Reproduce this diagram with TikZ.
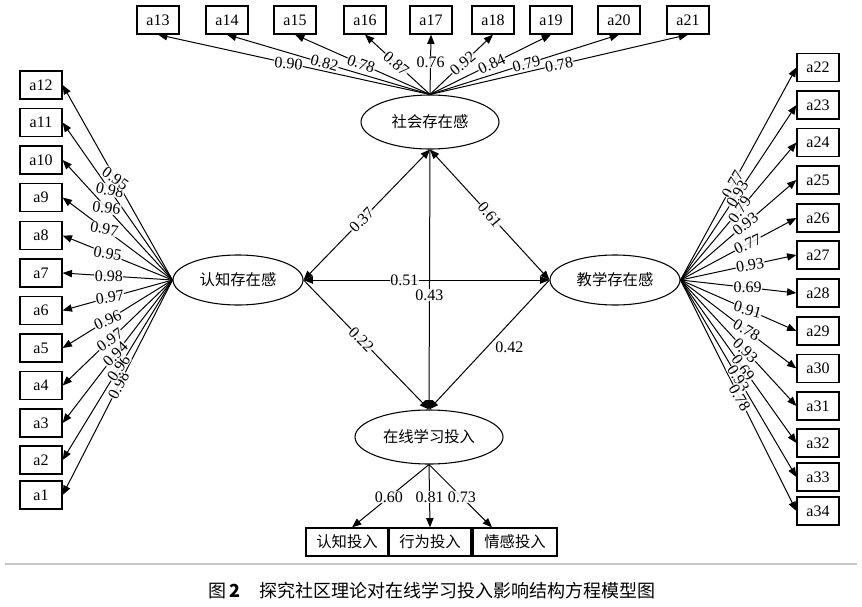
\documentclass[tikz,border=0pt]{standalone}
\usepackage{fontspec}
\setmainfont{Liberation Serif}
\newfontfamily\cjk{Noto Sans CJK SC}
\usetikzlibrary{arrows.meta,shapes.geometric,calc}
\begin{document}
\begin{tikzpicture}[x=0.75pt,y=-0.75pt,
  obs/.style={draw, line width=0.95pt, minimum width=31.5pt, minimum height=21pt, inner sep=0pt, font=\fontsize{12}{12}\selectfont},
  ind/.style={draw, line width=0.95pt, minimum width=61.5pt, minimum height=21pt, inner sep=0pt, font=\cjk\fontsize{11.5}{11.5}\selectfont},
  lat/.style={draw, ellipse, line width=0.8pt, inner sep=0pt, font=\cjk\fontsize{11.5}{11.5}\selectfont},
  arr/.style={line width=0.75pt, -{Triangle[length=7pt,width=5.5pt]}},
  darr/.style={line width=0.75pt, {Triangle[length=7pt,width=5.5pt]}-{Triangle[length=7pt,width=5.5pt]}},
  lbl/.style={fill=white, fill opacity=0.85, text opacity=1, inner sep=0.5pt, font=\fontsize{12}{12}\selectfont},
  plainlbl/.style={inner sep=0pt, font=\fontsize{12}{12}\selectfont},
]
\path[use as bounding box] (0,0) rectangle (862,606);

% latent variables
\node[lat, minimum width=103.5pt, minimum height=40.5pt] (T) at (430,122) {社会存在感};
\node[lat, minimum width=97.5pt, minimum height=37.5pt] (L) at (238,280) {认知存在感};
\node[lat, minimum width=97.5pt, minimum height=37.5pt] (R) at (615,280) {教学存在感};
\node[lat, minimum width=111pt, minimum height=40.5pt] (B) at (429,437) {在线学习投入};

% observed boxes
\foreach \n/\y in {1/495,2/460,3/423,4/385.5,5/348,6/310.5,7/273,8/235.5,9/197.5,10/160,11/122.5,12/85}
  \node[obs] (a\n) at (41,\y) {a\n};
\foreach \n/\x in {13/158,14/227,15/295,16/365,17/431,18/493,19/551,20/619,21/688}
  \node[obs] (a\n) at (\x,20) {a\n};
\foreach \n/\y in {22/67.5,23/105,24/142.5,25/180,26/218,27/255,28/293,29/331,30/368.5,31/406,32/443,33/477,34/511}
  \node[obs] (a\n) at (818,\y) {a\n};

\node[ind] (c1) at (347,542) {认知投入};
\node[ind] (c2) at (430,542) {行为投入};
\node[ind, minimum width=63pt] (c3) at (515,542) {情感投入};

% fan lines
\foreach \n in {1,...,12} \draw[arr] (L.west) -- (a\n.east);
\foreach \n in {13,...,21} \draw[arr] (T.north) -- (a\n.south);
\foreach \n in {22,...,34} \draw[arr] (R.east) -- (a\n.west);

% fan labels
\foreach \n/\val/\ps/\rt in {1/0.98/0.49/62,2/0.96/0.49/55,3/0.94/0.52/45,4/0.97/0.57/35,5/0.96/0.59/25,6/0.97/0.57/8,7/0.98/0.58/0,8/0.95/0.59/-10,9/0.97/0.62/-10,10/0.96/0.60/-8,11/0.98/0.57/-12,12/0.95/0.52/-35}
  \path (L.west) -- node[lbl, pos=\ps, rotate=\rt] {\val} (a\n.east);
\foreach \n/\val/\ps/\rt in {13/0.90/0.52/-5,14/0.82/0.52/-15,15/0.78/0.51/-20,16/0.87/0.52/-40,17/0.76/0.54/0,18/0.92/0.52/40,19/0.84/0.51/25,20/0.79/0.51/15,21/0.78/0.50/10}
  \path (T.north) -- node[lbl, pos=\ps, rotate=\rt] {\val} (a\n.south);
\foreach \n/\val/\ps/\rt in {22/0.77/0.45/60,23/0.93/0.49/58,24/0.79/0.51/55,25/0.93/0.56/40,26/0.77/0.58/25,27/0.93/0.60/10,28/0.69/0.58/0,29/0.91/0.58/-15,30/0.78/0.57/-30,31/0.93/0.56/-45,32/0.69/0.54/-55,33/0.93/0.50/-58,34/0.78/0.51/-60}
  \path (R.east) -- node[lbl, pos=\ps, rotate=\rt] {\val} (a\n.west);

% structural paths
\draw[darr] (L.east) -- node[lbl, pos=0.46, rotate=46] {0.37} (T.south);
\draw[darr] (T.south) -- node[lbl, pos=0.5, rotate=-50] {0.61} (R.west);
\draw[darr] (L.east) -- node[lbl, pos=0.41] {0.51} (R.west);
\draw[arr] (T.south) -- node[lbl, pos=0.56] {0.43} (B.north);
\draw[arr] (L.east) -- node[lbl, pos=0.46, rotate=-45] {0.22} (B.north);
\draw[arr] (R.west) -- node[plainlbl, pos=0.52, anchor=west, xshift=6pt] {0.42} (B.north);

% indicators of engagement
\draw[arr] (B.south) -- node[lbl, pos=0.52] {0.60} ($(c1.north)+(5,0)$);
\draw[arr] (B.south) -- node[lbl, pos=0.52] {0.81} (c2.north);
\draw[arr] (B.south) -- node[lbl, pos=0.52] {0.73} ($(c3.north)+(-23,0)$);

% rule and caption
\coordinate (r1) at (5,564);
\coordinate (r2) at (857,564);
\draw[black!22, line width=1.2pt] (r1) -- (r2);
\node[inner sep=0pt, font=\cjk\fontsize{13.5}{13.5}\selectfont] (cap) at (432,591) {图\,\textbf{2}\hspace{1.1em}探究社区理论对在线学习投入影响结构方程模型图};
\end{tikzpicture}
\end{document}
